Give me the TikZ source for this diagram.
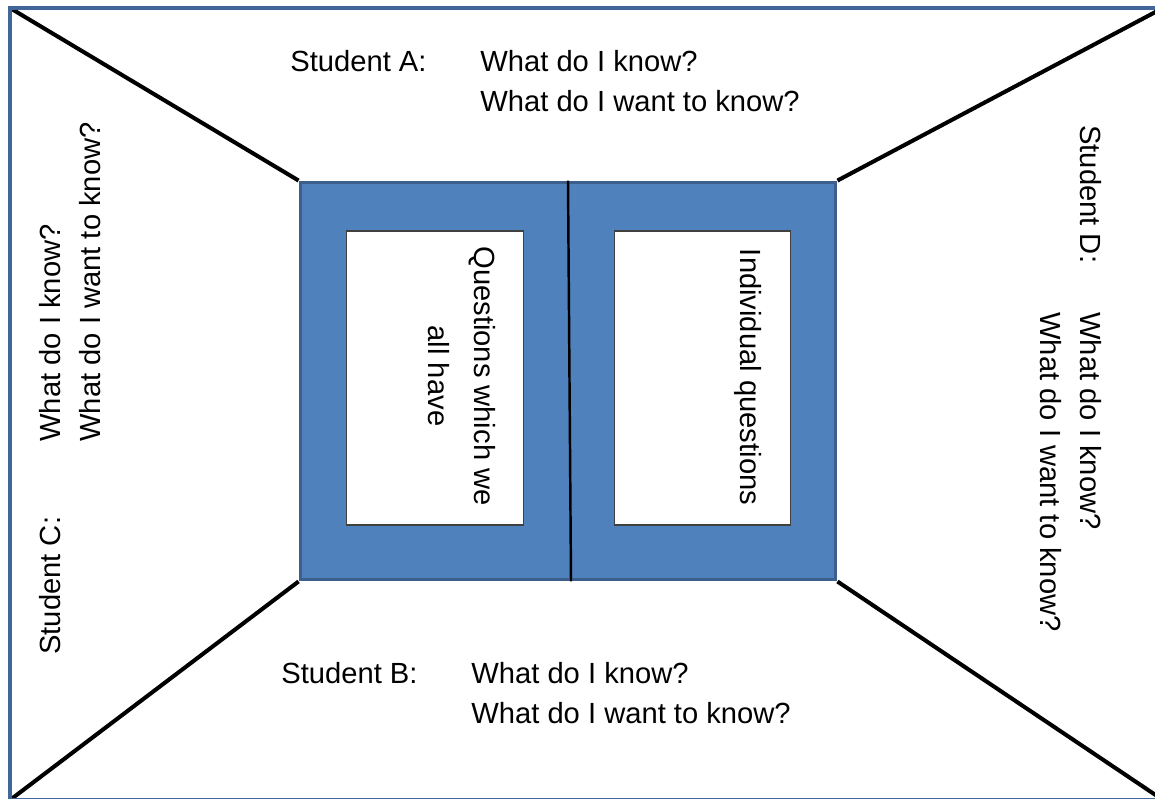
\documentclass[tikz,border=0pt]{standalone}
\usepackage{fontspec}
\setmainfont{Liberation Sans}
\usepackage{xcolor}
\usetikzlibrary{positioning}
\definecolor{boardblue}{RGB}{79,129,189}
\definecolor{boardedge}{RGB}{60,95,142}
\definecolor{frameblue}{RGB}{65,102,154}

\begin{document}
\begin{tikzpicture}[x = 0.02cm, y = -0.02cm, font = \fontsize{16.6}{22}\selectfont,
		txt/.style = {anchor = base west, inner sep = 0pt},
		diag/.style = {line width = 2.3pt},
		board/.style = {draw = boardedge, line width = 1.7pt, fill = boardblue, minimum width = 10.72cm, minimum height = 7.96cm},
		card/.style = {draw = black!75, line width = 0.8pt, fill = white, minimum width = 3.53cm, minimum height = 5.88cm, inner sep = 0pt},
		cardtext/.style = {rotate = -90, anchor = north, inner sep = 0pt, align = center, font = \fontsize{16.6}{26}\selectfont}]
			\useasboundingbox (0,0) rectangle (1155,798);
			\clip (0,0) rectangle (1155,798);
			
			%% Rahmen
			\coordinate (tl) at (10,8);
			\coordinate (tr) at (1163,8);
			\coordinate (bl) at (10,800);
			\coordinate (br) at (1163,800);
			
			%% Tafel in der Mitte
			\node [board] (board) at (568,381) {};
			\node [card] (cardall) at (435,378) {};
			\node [card] (cardown) at (702.5,378) {};
			\draw [line width = 1.4pt] (board.north) -- ([xshift = 0.06cm]board.south);
			
			\node [cardtext] (qall) at (496,376) {Questions which we\\all have};
			\node [cardtext] (qown) at (762,377) {Individual questions};
			
			%% Diagonalen
			\draw [diag] (tl) -- (board.north west);
			\draw [diag] (tr) -- (board.north east);
			\draw [diag] (bl) -- (board.south west);
			\draw [diag] (br) -- (board.south east);
			
			\draw [frameblue, line width = 2.3pt] (tl) rectangle (br);
			
			%% Student A
			\node [txt] (stuA) at (290,71) {Student A:};
			\node [txt] (knowA) at (480,71) {What do I know?};
			\node [txt] (wantA) at (480,111) {What do I want to know?};
			
			%% Student B
			\node [txt] (stuB) at (281,683) {Student B:};
			\node [txt] (knowB) at (471,683) {What do I know?};
			\node [txt] (wantB) at (471,723) {What do I want to know?};
			
			%% Student C
			\node [txt, rotate = 90] (stuC) at (60,655) {Student C:};
			\node [txt, rotate = 90] (knowC) at (60,442) {What do I know?};
			\node [txt, rotate = 90] (wantC) at (100,442) {What do I want to know?};
			
			%% Student D
			\node [txt, rotate = -90] (stuD) at (1080,125) {Student D:};
			\node [txt, rotate = -90] (knowD) at (1080,312) {What do I know?};
			\node [txt, rotate = -90] (wantD) at (1040,312) {What do I want to know?};
		\end{tikzpicture}
\end{document}
